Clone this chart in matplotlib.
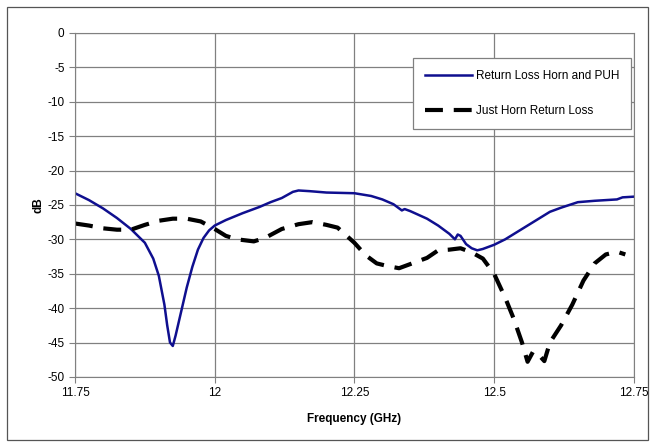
import numpy as np
import matplotlib
matplotlib.use('Agg')
import matplotlib.pyplot as plt
from matplotlib.patches import Rectangle

plt.rcParams['font.family'] = ['Liberation Sans', 'DejaVu Sans']
plt.rcParams['axes.unicode_minus'] = False

# Return Loss Horn and PUH
freq_puh = [11.75, 11.775, 11.80, 11.825, 11.85, 11.875, 11.89, 11.90, 11.91, 11.915,
            11.92, 11.925, 11.93, 11.94, 11.95, 11.96, 11.97, 11.98, 11.99, 12.0,
            12.02, 12.05, 12.08, 12.10, 12.12, 12.14, 12.15, 12.17, 12.20, 12.25,
            12.28, 12.30, 12.32, 12.335, 12.34, 12.35, 12.38, 12.40, 12.42, 12.43,
            12.435, 12.44, 12.45, 12.46, 12.47, 12.48, 12.50, 12.52, 12.55, 12.58,
            12.60, 12.62, 12.65, 12.68, 12.70, 12.72, 12.73, 12.75]
db_puh = [-23.3, -24.3, -25.5, -26.9, -28.5, -30.5, -32.8, -35.3, -39.5, -42.5,
          -45.0, -45.5, -44.0, -40.5, -37.0, -34.0, -31.5, -29.8, -28.7, -28.0,
          -27.2, -26.2, -25.3, -24.6, -24.0, -23.1, -22.9, -23.0, -23.2, -23.3,
          -23.7, -24.2, -24.9, -25.8, -25.6, -25.9, -27.0, -28.0, -29.2, -30.0,
          -29.3, -29.5, -30.7, -31.3, -31.6, -31.4, -30.8, -30.0, -28.5, -27.0,
          -26.0, -25.4, -24.6, -24.4, -24.3, -24.2, -23.9, -23.8]

# Just Horn Return Loss
freq_horn = [11.75, 11.775, 11.80, 11.825, 11.85, 11.875, 11.90, 11.925, 11.95, 11.975,
             12.0, 12.02, 12.04, 12.07, 12.09, 12.12, 12.15, 12.175, 12.20, 12.22,
             12.25, 12.27, 12.29, 12.31, 12.33, 12.35, 12.38, 12.40, 12.42, 12.44,
             12.46, 12.48, 12.50, 12.52, 12.535, 12.55, 12.56, 12.57, 12.58, 12.59,
             12.60, 12.62, 12.64, 12.66, 12.68, 12.70, 12.72, 12.735]
db_horn = [-27.7, -28.0, -28.4, -28.6, -28.6, -27.9, -27.3, -27.0, -27.0, -27.4,
           -28.5, -29.5, -30.0, -30.3, -29.8, -28.5, -27.8, -27.5, -27.9, -28.3,
           -30.5, -32.3, -33.5, -33.9, -34.2, -33.6, -32.7, -31.6, -31.5, -31.3,
           -31.9, -32.8, -35.0, -38.5, -41.5, -45.0, -47.8, -46.3, -46.8, -47.7,
           -45.0, -42.5, -39.5, -36.0, -33.5, -32.2, -31.8, -32.2]

x_ticks = [11.75, 12.0, 12.25, 12.5, 12.75]
x_tick_labels = ['11.75', '12', '12.25', '12.5', '12.75']
y_ticks = np.arange(-50, 1, 5)

fig = plt.figure(figsize=(6.54, 4.45), dpi=100)
ax = fig.add_axes([0.1147, 0.153, 0.8543, 0.773])

ax.plot(freq_puh, db_puh, color='#0f0f8f', linewidth=1.8, label='Return Loss Horn and PUH')
ax.plot(freq_horn, db_horn, color='black', linewidth=3, dashes=(4.3, 2.6),
        label='Just Horn Return Loss')

ax.set_xlim(11.75, 12.75)
ax.set_ylim(-50, 0)
ax.set_xticks(x_ticks)
ax.set_xticklabels(x_tick_labels)
ax.set_yticks(y_ticks)
ax.grid(True, color='#808080', linewidth=0.9)
ax.set_axisbelow(True)
for s in ax.spines.values():
    s.set_color('#808080')
ax.tick_params(labelsize=8.5, length=4, color='#808080', direction='out')
ax.set_xlabel('Frequency (GHz)', fontsize=8.5, fontweight='bold', labelpad=10)
ax.set_ylabel('dB', fontsize=8.5, fontweight='bold', labelpad=2)

leg = ax.legend(loc='upper left', bbox_to_anchor=(0.605, 0.927), fontsize=8.5,
                fancybox=False, framealpha=1, edgecolor='#808080',
                labelspacing=2.0, handlelength=4.0, handletextpad=0.3,
                borderpad=1.0, borderaxespad=0)
leg.get_frame().set_linewidth(0.9)

# outer chart border
fig.patches.append(Rectangle((7 / 654, 5 / 445), 641 / 654, 433 / 445,
                             transform=fig.transFigure, fill=False,
                             edgecolor='#555555', linewidth=0.9))

fig.savefig('out.png', dpi=100)
